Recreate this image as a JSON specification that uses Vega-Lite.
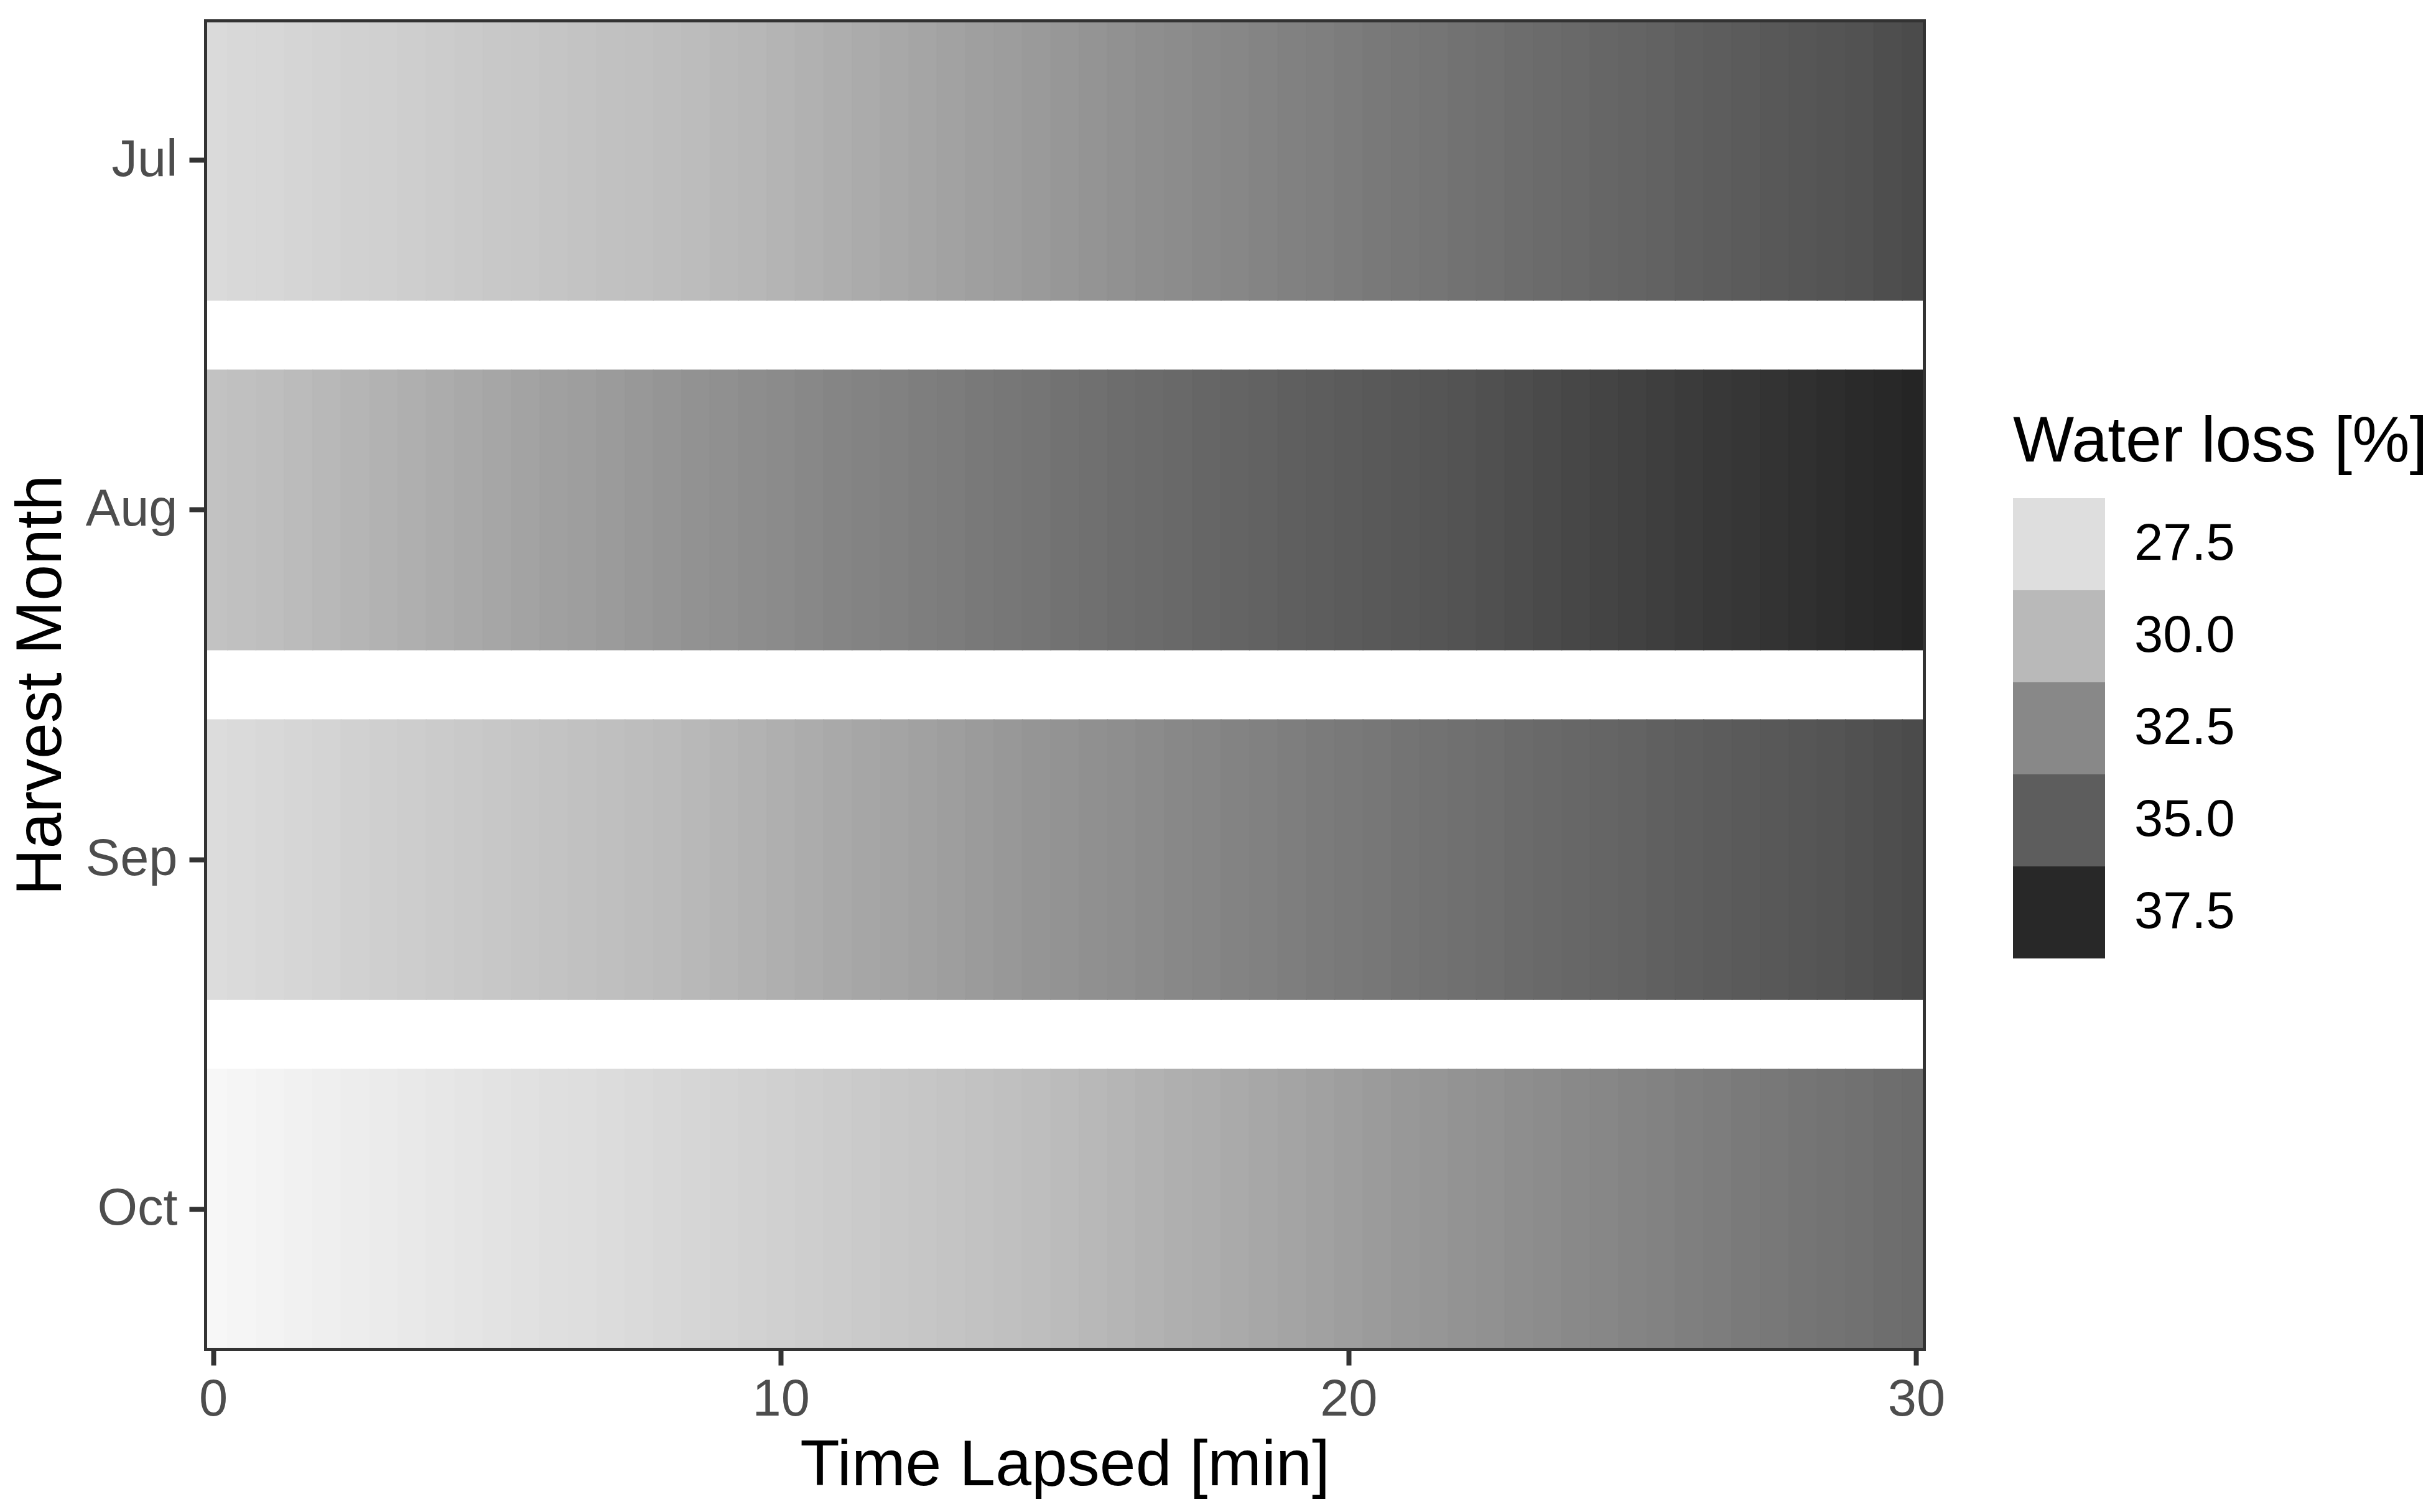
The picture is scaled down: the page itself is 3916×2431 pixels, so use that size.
{
  "$schema": "https://vega.github.io/schema/vega-lite/v6.json",
  "width": 2763,
  "height": 2136,
  "autosize": {"type": "none"},
  "padding": {"left": 330, "top": 33, "right": 823, "bottom": 262},
  "background": "white",
  "config": {
    "view": {"stroke": null},
    "font": "Liberation Sans",
    "axis": {"grid": false, "labelFont": "Liberation Sans", "titleFont": "Liberation Sans"}
  },
  "data": {
    "values": [
      {"m":"Jul","t":0,"w":27.74},{"m":"Jul","t":0.5,"w":27.86},{"m":"Jul","t":1,"w":27.98},{"m":"Jul","t":1.5,"w":28.11},{"m":"Jul","t":2,"w":28.23},{"m":"Jul","t":2.5,"w":28.35},{"m":"Jul","t":3,"w":28.47},{"m":"Jul","t":3.5,"w":28.6},{"m":"Jul","t":4,"w":28.72},{"m":"Jul","t":4.5,"w":28.85},{"m":"Jul","t":5,"w":28.97},{"m":"Jul","t":5.5,"w":29.1},{"m":"Jul","t":6,"w":29.22},{"m":"Jul","t":6.5,"w":29.35},{"m":"Jul","t":7,"w":29.47},{"m":"Jul","t":7.5,"w":29.6},{"m":"Jul","t":8,"w":29.72},{"m":"Jul","t":8.5,"w":29.85},{"m":"Jul","t":9,"w":29.97},{"m":"Jul","t":9.5,"w":30.1},{"m":"Jul","t":10,"w":30.23},{"m":"Jul","t":10.5,"w":30.37},{"m":"Jul","t":11,"w":30.52},{"m":"Jul","t":11.5,"w":30.67},{"m":"Jul","t":12,"w":30.82},{"m":"Jul","t":12.5,"w":30.97},{"m":"Jul","t":13,"w":31.12},{"m":"Jul","t":13.5,"w":31.26},{"m":"Jul","t":14,"w":31.41},{"m":"Jul","t":14.5,"w":31.56},{"m":"Jul","t":15,"w":31.71},{"m":"Jul","t":15.5,"w":31.86},{"m":"Jul","t":16,"w":32.01},{"m":"Jul","t":16.5,"w":32.16},{"m":"Jul","t":17,"w":32.31},{"m":"Jul","t":17.5,"w":32.45},{"m":"Jul","t":18,"w":32.6},{"m":"Jul","t":18.5,"w":32.75},{"m":"Jul","t":19,"w":32.9},{"m":"Jul","t":19.5,"w":33.05},{"m":"Jul","t":20,"w":33.2},{"m":"Jul","t":20.5,"w":33.34},{"m":"Jul","t":21,"w":33.48},{"m":"Jul","t":21.5,"w":33.61},{"m":"Jul","t":22,"w":33.75},{"m":"Jul","t":22.5,"w":33.89},{"m":"Jul","t":23,"w":34.03},{"m":"Jul","t":23.5,"w":34.17},{"m":"Jul","t":24,"w":34.31},{"m":"Jul","t":24.5,"w":34.45},{"m":"Jul","t":25,"w":34.59},{"m":"Jul","t":25.5,"w":34.72},{"m":"Jul","t":26,"w":34.86},{"m":"Jul","t":26.5,"w":35.0},{"m":"Jul","t":27,"w":35.14},{"m":"Jul","t":27.5,"w":35.28},{"m":"Jul","t":28,"w":35.42},{"m":"Jul","t":28.5,"w":35.55},{"m":"Jul","t":29,"w":35.69},{"m":"Jul","t":29.5,"w":35.83},{"m":"Jul","t":30,"w":35.97},
      {"m":"Aug","t":0,"w":29.45},{"m":"Aug","t":0.5,"w":29.6},{"m":"Aug","t":1,"w":29.74},{"m":"Aug","t":1.5,"w":29.89},{"m":"Aug","t":2,"w":30.04},{"m":"Aug","t":2.5,"w":30.18},{"m":"Aug","t":3,"w":30.33},{"m":"Aug","t":3.5,"w":30.47},{"m":"Aug","t":4,"w":30.62},{"m":"Aug","t":4.5,"w":30.77},{"m":"Aug","t":5,"w":30.92},{"m":"Aug","t":5.5,"w":31.06},{"m":"Aug","t":6,"w":31.21},{"m":"Aug","t":6.5,"w":31.35},{"m":"Aug","t":7,"w":31.5},{"m":"Aug","t":7.5,"w":31.64},{"m":"Aug","t":8,"w":31.79},{"m":"Aug","t":8.5,"w":31.94},{"m":"Aug","t":9,"w":32.09},{"m":"Aug","t":9.5,"w":32.23},{"m":"Aug","t":10,"w":32.38},{"m":"Aug","t":10.5,"w":32.52},{"m":"Aug","t":11,"w":32.66},{"m":"Aug","t":11.5,"w":32.79},{"m":"Aug","t":12,"w":32.93},{"m":"Aug","t":12.5,"w":33.07},{"m":"Aug","t":13,"w":33.21},{"m":"Aug","t":13.5,"w":33.34},{"m":"Aug","t":14,"w":33.48},{"m":"Aug","t":14.5,"w":33.62},{"m":"Aug","t":15,"w":33.76},{"m":"Aug","t":15.5,"w":33.9},{"m":"Aug","t":16,"w":34.04},{"m":"Aug","t":16.5,"w":34.17},{"m":"Aug","t":17,"w":34.31},{"m":"Aug","t":17.5,"w":34.45},{"m":"Aug","t":18,"w":34.59},{"m":"Aug","t":18.5,"w":34.72},{"m":"Aug","t":19,"w":34.86},{"m":"Aug","t":19.5,"w":35.0},{"m":"Aug","t":20,"w":35.14},{"m":"Aug","t":20.5,"w":35.26},{"m":"Aug","t":21,"w":35.39},{"m":"Aug","t":21.5,"w":35.51},{"m":"Aug","t":22,"w":35.64},{"m":"Aug","t":22.5,"w":35.76},{"m":"Aug","t":23,"w":35.89},{"m":"Aug","t":23.5,"w":36.01},{"m":"Aug","t":24,"w":36.14},{"m":"Aug","t":24.5,"w":36.26},{"m":"Aug","t":25,"w":36.39},{"m":"Aug","t":25.5,"w":36.51},{"m":"Aug","t":26,"w":36.64},{"m":"Aug","t":26.5,"w":36.76},{"m":"Aug","t":27,"w":36.89},{"m":"Aug","t":27.5,"w":37.01},{"m":"Aug","t":28,"w":37.14},{"m":"Aug","t":28.5,"w":37.26},{"m":"Aug","t":29,"w":37.39},{"m":"Aug","t":29.5,"w":37.51},{"m":"Aug","t":30,"w":37.64},
      {"m":"Sep","t":0,"w":27.62},{"m":"Sep","t":0.5,"w":27.77},{"m":"Sep","t":1,"w":27.91},{"m":"Sep","t":1.5,"w":28.05},{"m":"Sep","t":2,"w":28.19},{"m":"Sep","t":2.5,"w":28.34},{"m":"Sep","t":3,"w":28.48},{"m":"Sep","t":3.5,"w":28.62},{"m":"Sep","t":4,"w":28.76},{"m":"Sep","t":4.5,"w":28.91},{"m":"Sep","t":5,"w":29.05},{"m":"Sep","t":5.5,"w":29.19},{"m":"Sep","t":6,"w":29.33},{"m":"Sep","t":6.5,"w":29.48},{"m":"Sep","t":7,"w":29.62},{"m":"Sep","t":7.5,"w":29.76},{"m":"Sep","t":8,"w":29.9},{"m":"Sep","t":8.5,"w":30.05},{"m":"Sep","t":9,"w":30.19},{"m":"Sep","t":9.5,"w":30.33},{"m":"Sep","t":10,"w":30.47},{"m":"Sep","t":10.5,"w":30.62},{"m":"Sep","t":11,"w":30.76},{"m":"Sep","t":11.5,"w":30.91},{"m":"Sep","t":12,"w":31.05},{"m":"Sep","t":12.5,"w":31.2},{"m":"Sep","t":13,"w":31.34},{"m":"Sep","t":13.5,"w":31.49},{"m":"Sep","t":14,"w":31.63},{"m":"Sep","t":14.5,"w":31.78},{"m":"Sep","t":15,"w":31.92},{"m":"Sep","t":15.5,"w":32.07},{"m":"Sep","t":16,"w":32.21},{"m":"Sep","t":16.5,"w":32.36},{"m":"Sep","t":17,"w":32.5},{"m":"Sep","t":17.5,"w":32.65},{"m":"Sep","t":18,"w":32.79},{"m":"Sep","t":18.5,"w":32.94},{"m":"Sep","t":19,"w":33.08},{"m":"Sep","t":19.5,"w":33.23},{"m":"Sep","t":20,"w":33.37},{"m":"Sep","t":20.5,"w":33.5},{"m":"Sep","t":21,"w":33.63},{"m":"Sep","t":21.5,"w":33.76},{"m":"Sep","t":22,"w":33.89},{"m":"Sep","t":22.5,"w":34.02},{"m":"Sep","t":23,"w":34.15},{"m":"Sep","t":23.5,"w":34.28},{"m":"Sep","t":24,"w":34.41},{"m":"Sep","t":24.5,"w":34.54},{"m":"Sep","t":25,"w":34.67},{"m":"Sep","t":25.5,"w":34.8},{"m":"Sep","t":26,"w":34.93},{"m":"Sep","t":26.5,"w":35.06},{"m":"Sep","t":27,"w":35.19},{"m":"Sep","t":27.5,"w":35.32},{"m":"Sep","t":28,"w":35.45},{"m":"Sep","t":28.5,"w":35.58},{"m":"Sep","t":29,"w":35.71},{"m":"Sep","t":29.5,"w":35.84},{"m":"Sep","t":30,"w":35.97},
      {"m":"Oct","t":0,"w":25.85},{"m":"Oct","t":0.5,"w":25.98},{"m":"Oct","t":1,"w":26.11},{"m":"Oct","t":1.5,"w":26.23},{"m":"Oct","t":2,"w":26.36},{"m":"Oct","t":2.5,"w":26.49},{"m":"Oct","t":3,"w":26.62},{"m":"Oct","t":3.5,"w":26.74},{"m":"Oct","t":4,"w":26.87},{"m":"Oct","t":4.5,"w":27.0},{"m":"Oct","t":5,"w":27.13},{"m":"Oct","t":5.5,"w":27.26},{"m":"Oct","t":6,"w":27.39},{"m":"Oct","t":6.5,"w":27.51},{"m":"Oct","t":7,"w":27.64},{"m":"Oct","t":7.5,"w":27.77},{"m":"Oct","t":8,"w":27.9},{"m":"Oct","t":8.5,"w":28.02},{"m":"Oct","t":9,"w":28.15},{"m":"Oct","t":9.5,"w":28.28},{"m":"Oct","t":10,"w":28.41},{"m":"Oct","t":10.5,"w":28.55},{"m":"Oct","t":11,"w":28.7},{"m":"Oct","t":11.5,"w":28.84},{"m":"Oct","t":12,"w":28.99},{"m":"Oct","t":12.5,"w":29.14},{"m":"Oct","t":13,"w":29.29},{"m":"Oct","t":13.5,"w":29.43},{"m":"Oct","t":14,"w":29.58},{"m":"Oct","t":14.5,"w":29.73},{"m":"Oct","t":15,"w":29.88},{"m":"Oct","t":15.5,"w":30.02},{"m":"Oct","t":16,"w":30.17},{"m":"Oct","t":16.5,"w":30.31},{"m":"Oct","t":17,"w":30.46},{"m":"Oct","t":17.5,"w":30.6},{"m":"Oct","t":18,"w":30.75},{"m":"Oct","t":18.5,"w":30.9},{"m":"Oct","t":19,"w":31.05},{"m":"Oct","t":19.5,"w":31.19},{"m":"Oct","t":20,"w":31.34},{"m":"Oct","t":20.5,"w":31.48},{"m":"Oct","t":21,"w":31.62},{"m":"Oct","t":21.5,"w":31.76},{"m":"Oct","t":22,"w":31.9},{"m":"Oct","t":22.5,"w":32.04},{"m":"Oct","t":23,"w":32.18},{"m":"Oct","t":23.5,"w":32.32},{"m":"Oct","t":24,"w":32.46},{"m":"Oct","t":24.5,"w":32.6},{"m":"Oct","t":25,"w":32.74},{"m":"Oct","t":25.5,"w":32.87},{"m":"Oct","t":26,"w":33.01},{"m":"Oct","t":26.5,"w":33.15},{"m":"Oct","t":27,"w":33.29},{"m":"Oct","t":27.5,"w":33.43},{"m":"Oct","t":28,"w":33.57},{"m":"Oct","t":28.5,"w":33.71},{"m":"Oct","t":29,"w":33.85},{"m":"Oct","t":29.5,"w":33.99},{"m":"Oct","t":30,"w":34.13}
    ]
  },
  "layer": [
    {
      "mark": {"type": "rect", "clip": true, "xOffset": -22.8, "strokeWidth": 1.5, "strokeOpacity": 1},
      "encoding": {
        "x": {
          "field": "t", "type": "quantitative",
          "bin": {"binned": true, "step": 0.5},
          "scale": {"domain": [-0.137, 30.137], "nice": false, "zero": false},
          "axis": {
            "orient": "bottom", "values": [0, 10, 20, 30], "format": "d",
            "title": "Time Lapsed [min]", "titleFontSize": 104, "titleFontWeight": "normal", "titleColor": "black", "titlePadding": 13,
            "labelFontSize": 83, "labelColor": "#4d4d4d", "labelPadding": 14, "labelFlush": false, "labelOverlap": false,
            "tickSize": 26, "tickWidth": 8, "tickColor": "#333333",
            "domain": true, "domainColor": "#333333", "domainWidth": 5, "domainCap": "square", "zindex": 1
          }
        },
        "y": {
          "field": "m", "type": "nominal",
          "scale": {"domain": ["Jul", "Aug", "Sep", "Oct"], "paddingInner": 0.2, "paddingOuter": 0},
          "axis": {
            "orient": "left", "title": "Harvest Month", "titleFontSize": 104, "titleFontWeight": "normal", "titleColor": "black", "titlePadding": 18,
            "labelFontSize": 83, "labelColor": "#4d4d4d", "labelPadding": 19, "labelAngle": 0,
            "tickSize": 26, "tickWidth": 8, "tickColor": "#333333",
            "domain": true, "domainColor": "#333333", "domainWidth": 5, "domainCap": "square", "zindex": 1
          }
        },
        "color": {
          "field": "w", "type": "quantitative",
          "scale": {
            "domain": [25.85, 27.815, 29.78, 31.745, 33.71, 35.675, 37.64],
            "range": ["#f7f7f7", "#d9d9d9", "#bdbdbd", "#969696", "#737373", "#525252", "#252525"],
            "interpolate": "lab"
          },
          "legend": {
            "type": "symbol", "values": [27.5, 30, 32.5, 35, 37.5], "format": ".1f",
            "title": "Water loss [%]", "orient": "none", "legendX": 2906, "legendY": 627,
            "symbolType": "square", "symbolSize": 21904, "symbolStrokeWidth": 0, "symbolOpacity": 1,
            "rowPadding": 0, "padding": 0,
            "labelFont": "Liberation Sans", "labelFontSize": 83, "labelColor": "black", "labelOffset": 47, "labelLimit": 1000,
            "titleFont": "Liberation Sans", "titleFontSize": 104, "titleFontWeight": "normal", "titleColor": "black", "titlePadding": 37, "titleLimit": 2000
          }
        },
        "stroke": {
          "field": "w", "type": "quantitative",
          "scale": {
            "domain": [25.85, 27.815, 29.78, 31.745, 33.71, 35.675, 37.64],
            "range": ["#f7f7f7", "#d9d9d9", "#bdbdbd", "#969696", "#737373", "#525252", "#252525"],
            "interpolate": "lab"
          },
          "legend": null
        }
      }
    },
    {
      "mark": {"type": "rect", "opacity": 0},
      "encoding": {
        "x": {
          "field": "t", "type": "quantitative",
          "axis": {"orient": "top", "labels": false, "ticks": false, "title": null, "domain": true, "domainColor": "#333333", "domainWidth": 5, "domainCap": "square", "zindex": 1}
        },
        "y": {
          "field": "m", "type": "nominal",
          "axis": {"orient": "right", "labels": false, "ticks": false, "title": null, "domain": true, "domainColor": "#333333", "domainWidth": 5, "domainCap": "square", "zindex": 1}
        }
      }
    }
  ],
  "resolve": {"axis": {"x": "independent", "y": "independent"}}
}
